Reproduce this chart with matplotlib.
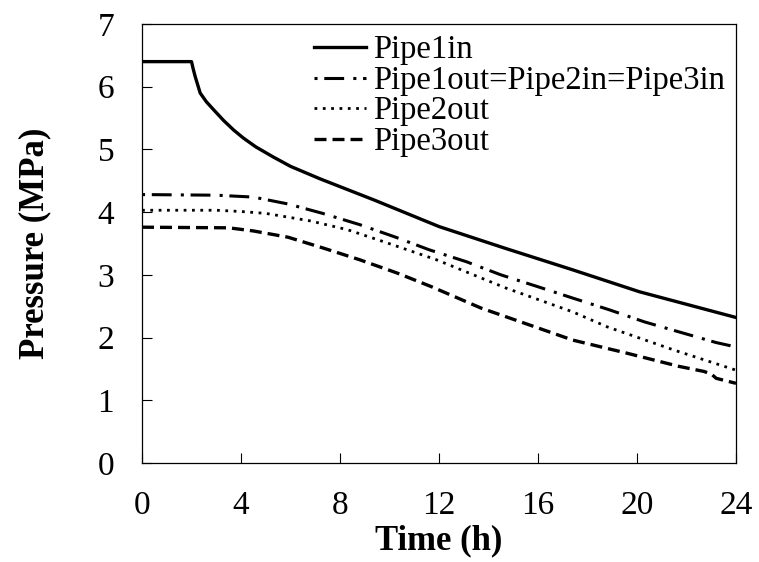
import matplotlib.pyplot as plt

plt.rcParams['font.family'] = ['Liberation Serif', 'DejaVu Serif']

# values
t_in = [0, 2, 2.07, 2.15, 2.35, 2.6, 2.9, 3.3, 3.7, 4.1, 4.6, 5.3, 6, 7.2, 8.3, 9.4, 12, 14.7, 17.4, 20.1, 24]
p_in = [6.4, 6.4, 6.28, 6.16, 5.9, 5.76, 5.63, 5.46, 5.31, 5.18, 5.04, 4.88, 4.73, 4.53, 4.36, 4.19, 3.77, 3.42, 3.08, 2.73, 2.32]

t_1out = [0, 3, 4.5, 5.9, 7.3, 8.8, 10.25, 11.6, 13.1, 14.5, 16, 17.4, 18.9, 20.3, 21.7, 23.2, 24]
p_1out = [4.28, 4.27, 4.24, 4.13, 3.98, 3.80, 3.60, 3.40, 3.21, 3.0, 2.81, 2.63, 2.44, 2.25, 2.09, 1.92, 1.85]

t_2out = [0, 3, 4, 5, 6.8, 8.3, 9.75, 11.9, 14.7, 17.4, 18.8, 21.5, 24]
p_2out = [4.03, 4.03, 4.01, 3.98, 3.86, 3.72, 3.53, 3.24, 2.79, 2.41, 2.17, 1.80, 1.48]

t_3out = [0, 3.5, 4.5, 5.9, 7.3, 8.8, 10.3, 11.7, 13.7, 15.3, 17.4, 19.6, 21.7, 22.7, 23.0, 23.2, 24]
p_3out = [3.76, 3.75, 3.70, 3.60, 3.43, 3.24, 3.03, 2.81, 2.47, 2.25, 1.96, 1.75, 1.54, 1.46, 1.42, 1.35, 1.27]

labels = ['Pipe1in', 'Pipe1out=Pipe2in=Pipe3in', 'Pipe2out', 'Pipe3out']

fig = plt.figure(figsize=(7.59, 5.62), dpi=100)
ax = fig.add_axes([0.1871, 0.1762, 0.7826, 0.7811])

ax.plot(t_in, p_in, color='black', lw=2.4, label=labels[0])
ax.plot(t_1out, p_1out, color='black', lw=2.2, dashes=[1, 2.2, 6.5, 3], label=labels[1])
ax.plot(t_2out, p_2out, color='black', lw=2.0, dashes=[1, 2], label=labels[2])
ax.plot(t_3out, p_3out, color='black', lw=2.4, dashes=[3.6, 1.8], label=labels[3])

ax.set_xlim(0, 24)
ax.set_ylim(0, 7)
ax.set_xticks(range(0, 25, 4))
ax.set_yticks(range(0, 8))
ax.tick_params(direction='in', length=7, width=0.8, labelsize=24, pad=20,
               top=False, right=False)
for s in ax.spines.values():
    s.set_linewidth(0.9)

ax.set_xlabel('Time (h)', fontsize=25, fontweight='bold', labelpad=2)
ax.set_ylabel('Pressure (MPa)', fontsize=25, fontweight='bold', labelpad=33)

ax.legend(loc='upper left', bbox_to_anchor=(0.29, 0.975), frameon=False, fontsize=23.5,
          handlelength=1.6, handletextpad=0.2, borderpad=0, borderaxespad=0,
          labelspacing=0.0)

fig.savefig('out.png', dpi=100)
